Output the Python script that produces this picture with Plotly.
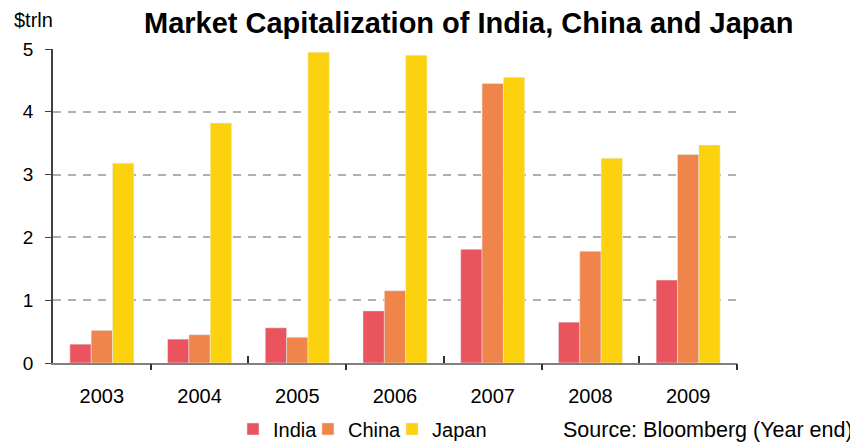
import plotly.graph_objects as go

years = ['2003', '2004', '2005', '2006', '2007', '2008', '2009']
india = [0.30, 0.38, 0.56, 0.83, 1.81, 0.65, 1.32]
china = [0.52, 0.45, 0.41, 1.15, 4.45, 1.78, 3.32]
japan = [3.18, 3.82, 4.95, 4.90, 4.55, 3.26, 3.47]

FONT = 'Liberation Sans, Arial, sans-serif'

fig = go.Figure()
fig.add_trace(go.Bar(x=years, y=india, name='India', marker_color='#E9545E', legend='legend'))
fig.add_trace(go.Bar(x=years, y=china, name='China', marker_color='#EF854A', legend='legend2'))
fig.add_trace(go.Bar(x=years, y=japan, name='Japan', marker_color='#FCD10E', legend='legend3'))

# category boundaries; the source chart ticks them alternately down and up
n = len(years)
down_ticks = [i + 0.5 for i in range(0, n, 2)]
up_ticks = [i + 0.5 for i in range(1, n - 1, 2)]

# invisible helper traces so the two tick-only axes get drawn
fig.add_trace(go.Scatter(x=down_ticks, y=[0] * len(down_ticks), xaxis='x2', mode='none',
                         showlegend=False, hoverinfo='skip'))
fig.add_trace(go.Scatter(x=up_ticks, y=[0] * len(up_ticks), xaxis='x3', mode='none',
                         showlegend=False, hoverinfo='skip'))

leg = dict(orientation='h', xref='container', yref='container', y=0.03,
           xanchor='left', yanchor='middle', font=dict(size=20), itemwidth=30,
           bgcolor='rgba(0,0,0,0)')

# the page body has an 8px margin, so the figure is laid out 8px up/left
fig.update_layout(
    width=850, height=434,
    margin=dict(l=45, r=121, t=41, b=79, autoexpand=False),
    paper_bgcolor='white', plot_bgcolor='white',
    font=dict(family=FONT, size=20, color='black'),
    barmode='group', bargap=0.345, bargroupgap=0,
    title=dict(text='<b>Market Capitalization of India, China and Japan</b>',
               font=dict(size=29, family=FONT, color='black'),
               xref='container', x=0.542, xanchor='center',
               yref='container', y=0.966, yanchor='middle'),
    legend=dict(leg, x=0.2647),
    legend2=dict(leg, x=0.3529),
    legend3=dict(leg, x=0.4518),
    showlegend=True,
    xaxis=dict(showline=True, linecolor='#808080', linewidth=2, ticks='',
               tickfont=dict(size=20), ticklabelstandoff=14, showgrid=False),
    xaxis2=dict(overlaying='x', anchor='y', side='bottom', range=[-0.5, n - 0.5],
                tickvals=down_ticks, ticks='outside', ticklen=6, tickwidth=1.5,
                tickcolor='#303030', showticklabels=False, showgrid=False,
                zeroline=False, showline=False),
    xaxis3=dict(overlaying='x', anchor='y', side='bottom', range=[-0.5, n - 0.5],
                tickvals=up_ticks, ticks='inside', ticklen=7, tickwidth=1.5,
                tickcolor='#303030', showticklabels=False, showgrid=False,
                zeroline=False, showline=False),
    yaxis=dict(range=[0, 5], dtick=1, showline=True, linecolor='#404040', linewidth=1.5,
               ticks='outside', ticklen=6, tickcolor='#404040', tickfont=dict(size=19),
               ticklabelstandoff=8,
               showgrid=True, gridcolor='#B0B0B0', griddash='8px,7px', gridwidth=1.8,
               zeroline=False),
)

fig.add_annotation(text='$trln', xref='paper', yref='paper', x=-0.06, y=1.092,
                   xanchor='left', yanchor='middle', showarrow=False,
                   font=dict(size=20))
fig.add_annotation(text='Source: Bloomberg (Year end)', xref='paper', yref='paper',
                   x=1.1725, y=-0.213, xanchor='right', yanchor='middle',
                   showarrow=False, font=dict(size=21.5))

fig.write_html('out.html')
